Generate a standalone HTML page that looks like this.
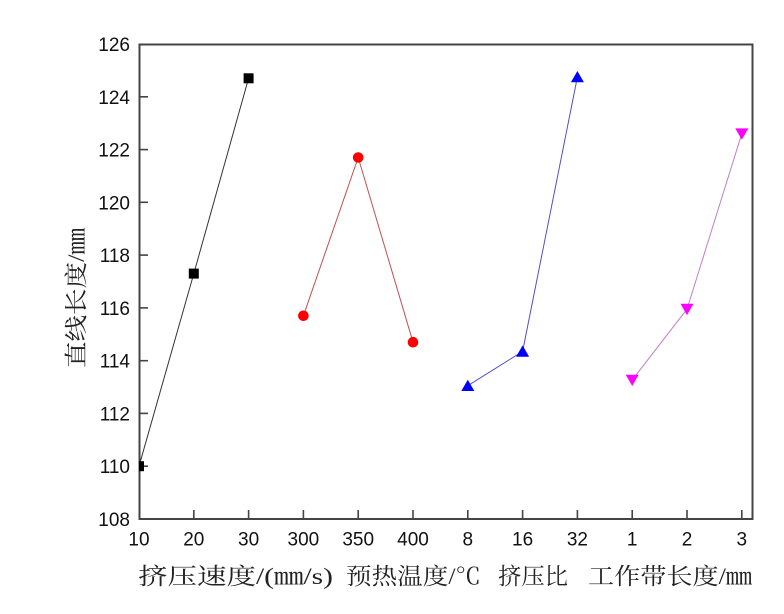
<!DOCTYPE html>
<html><head><meta charset="utf-8"><style>
html,body{margin:0;padding:0;background:#fff;}
svg{display:block;}
</style></head><body>
<svg width="784" height="614" viewBox="0 0 784 614" xmlns="http://www.w3.org/2000/svg">
<defs><clipPath id="pc"><rect x="139" y="44" width="614" height="475"/></clipPath></defs>
<rect width="784" height="614" fill="#fff"/>
<!-- frame -->
<rect x="139.5" y="44.5" width="613" height="474.5" fill="none" stroke="#444" stroke-width="2"/>
<!-- ticks -->
<g stroke="#444" stroke-width="1.6">
<line x1="139" y1="96.8" x2="148" y2="96.8"/>
<line x1="139" y1="149.6" x2="148" y2="149.6"/>
<line x1="139" y1="202.3" x2="148" y2="202.3"/>
<line x1="139" y1="255.1" x2="148" y2="255.1"/>
<line x1="139" y1="307.9" x2="148" y2="307.9"/>
<line x1="139" y1="360.7" x2="148" y2="360.7"/>
<line x1="139" y1="413.4" x2="148" y2="413.4"/>
<line x1="139" y1="466.2" x2="148" y2="466.2"/>
<line x1="193.8" y1="519" x2="193.8" y2="510"/>
<line x1="248.6" y1="519" x2="248.6" y2="510"/>
<line x1="303.4" y1="519" x2="303.4" y2="510"/>
<line x1="358.2" y1="519" x2="358.2" y2="510"/>
<line x1="413" y1="519" x2="413" y2="510"/>
<line x1="467.8" y1="519" x2="467.8" y2="510"/>
<line x1="522.6" y1="519" x2="522.6" y2="510"/>
<line x1="577.4" y1="519" x2="577.4" y2="510"/>
<line x1="632.2" y1="519" x2="632.2" y2="510"/>
<line x1="687" y1="519" x2="687" y2="510"/>
<line x1="741.8" y1="519" x2="741.8" y2="510"/>
</g>
<!-- y tick labels -->
<g font-family="Liberation Sans, Arial, sans-serif" font-size="19" fill="#111" text-anchor="end">
<text x="130" y="51">126</text>
<text x="130" y="103.8">124</text>
<text x="130" y="156.6">122</text>
<text x="130" y="209.3">120</text>
<text x="130" y="262.1">118</text>
<text x="130" y="314.9">116</text>
<text x="130" y="367.7">114</text>
<text x="130" y="420.4">112</text>
<text x="130" y="473.2">110</text>
<text x="130" y="526">108</text>
</g>
<!-- x tick labels -->
<g font-family="Liberation Sans, Arial, sans-serif" font-size="19" fill="#111" text-anchor="middle">
<text x="139" y="545.5">10</text>
<text x="193.8" y="545.5">20</text>
<text x="248.6" y="545.5">30</text>
<text x="303.4" y="545.5">300</text>
<text x="358.2" y="545.5">350</text>
<text x="413" y="545.5">400</text>
<text x="467.8" y="545.5">8</text>
<text x="522.6" y="545.5">16</text>
<text x="577.4" y="545.5">32</text>
<text x="632.2" y="545.5">1</text>
<text x="687" y="545.5">2</text>
<text x="741.8" y="545.5">3</text>
</g>
<!-- axis titles -->
<g font-family="Liberation Serif, 'Noto Serif CJK SC', serif" font-size="23" fill="#222">
<text x="138" y="584" textLength="195" lengthAdjust="spacingAndGlyphs">挤压速度/(㎜/s)</text>
<text x="346" y="584" textLength="135" lengthAdjust="spacingAndGlyphs">预热温度/℃</text>
<text x="498" y="584" textLength="70" lengthAdjust="spacingAndGlyphs">挤压比</text>
<text x="588" y="584" textLength="164" lengthAdjust="spacingAndGlyphs">工作带长度/㎜</text>
<text transform="translate(84,368) rotate(-90)" x="0" y="0" textLength="140" lengthAdjust="spacingAndGlyphs">直线长度/㎜</text>
</g>
<g clip-path="url(#pc)">
<!-- black -->
<polyline points="139,466.2 193.8,273.6 248.6,78.3" fill="none" stroke="#333" stroke-width="1"/>
<rect x="134" y="461.2" width="10" height="10" fill="#000"/>
<rect x="188.8" y="268.6" width="10" height="10" fill="#000"/>
<rect x="243.6" y="73.3" width="10" height="10" fill="#000"/>
<!-- red -->
<polyline points="303.4,315.8 358.2,157.5 413,342.2" fill="none" stroke="#c05050" stroke-width="1"/>
<circle cx="303.4" cy="315.8" r="5.3" fill="#f00"/>
<circle cx="358.2" cy="157.5" r="5.3" fill="#f00"/>
<circle cx="413" cy="342.2" r="5.3" fill="#f00"/>
<!-- blue -->
<polyline points="467.8,385.7 522.6,351.4 577.4,77" fill="none" stroke="#5050c8" stroke-width="1"/>
<polygon points="467.8,379.7 461.3,391 474.3,391" fill="#00f"/>
<polygon points="522.6,345.4 516.1,356.7 529.1,356.7" fill="#00f"/>
<polygon points="577.4,71 570.9,82.3 583.9,82.3" fill="#00f"/>
<!-- magenta -->
<polyline points="632.2,380 687,309.1 741.8,133.7" fill="none" stroke="#c080c8" stroke-width="1"/>
<polygon points="632.2,386 625.7,374.7 638.7,374.7" fill="#f0f"/>
<polygon points="687,315.1 680.5,303.8 693.5,303.8" fill="#f0f"/>
<polygon points="741.8,139.7 735.3,128.4 748.3,128.4" fill="#f0f"/>
</g>
</svg>
</body></html>
